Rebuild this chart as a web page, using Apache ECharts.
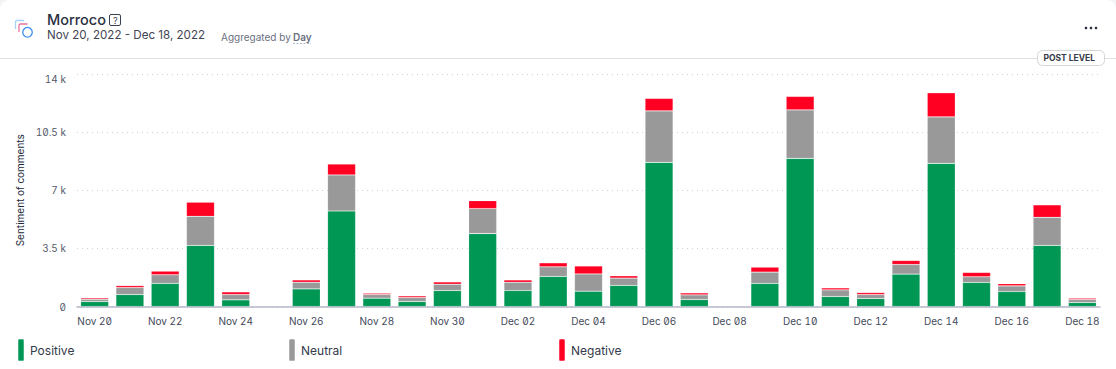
<!DOCTYPE html>
<html><head><meta charset="utf-8">
<script src="https://cdn.jsdelivr.net/npm/echarts@6/dist/echarts.min.js"></script>
<style>
html,body{margin:0;padding:0;background:#fff}
#c{width:1116px;height:369px;font-feature-settings:"zero","tnum";}
</style></head><body><div id="c"></div>
<script>
const categories=['Nov 20','Nov 21','Nov 22','Nov 23','Nov 24','Nov 25','Nov 26','Nov 27','Nov 28','Nov 29','Nov 30','Dec 01','Dec 02','Dec 03','Dec 04','Dec 05','Dec 06','Dec 07','Dec 08','Dec 09','Dec 10','Dec 11','Dec 12','Dec 13','Dec 14','Dec 15','Dec 16','Dec 17','Dec 18'];
const positive=[300,720,1390,3680,400,null,1060,5750,500,300,960,4390,960,1810,920,1270,8680,420,null,1390,8920,600,480,1950,8620,1450,900,3680,240];
const neutral=[140,420,520,1750,320,null,400,2170,220,240,380,1500,500,580,1040,440,3100,280,null,680,2920,400,240,580,2800,340,340,1690,180];
const negative=[80,120,220,850,160,null,140,660,80,100,140,480,140,240,480,140,750,120,null,300,810,120,120,240,1450,260,140,750,80];
const yTicks={0:'0',3500:'3.5 k',7000:'7 k',10500:'10.5 k',14000:'14 k'};
const FONT='Inter, "Noto Sans", sans-serif';
const INK='#343a4a';
const chart=echarts.init(document.getElementById('c'),null,{renderer:'svg'});
function bar(name,data,color){return {name,type:'bar',stack:'s',data,barWidth:28,
  itemStyle:{color,borderColor:'rgba(255,255,255,0.25)',borderWidth:0.6},emphasis:{disabled:true},animation:false};}
function legend(name,left){return {data:[{name}],left,top:338,padding:0,icon:'roundRect',itemWidth:6,itemHeight:22,itemGap:0,selectedMode:false,
  textStyle:{fontFamily:FONT,fontSize:12,color:INK,padding:[0,0,1,1]}};}
chart.setOption({
  animation:false,
  backgroundColor:'#f3f4f5',
  grid:{left:77,right:16,top:74,bottom:62.5},
  legend:[legend('Positive',17),legend('Neutral',288),legend('Negative',558)],
  xAxis:{type:'category',data:categories,
    axisLine:{lineStyle:{color:'#b4b7c6',width:1.5}},
    axisTick:{alignWithLabel:true,interval:1,length:6,lineStyle:{color:'#8d91a3'}},
    axisLabel:{interval:1,fontFamily:FONT,fontSize:10,color:'#444a5a',margin:9}},
  yAxis:{type:'value',min:0,max:14000,interval:3500,
    name:'Sentiment of comments',nameLocation:'middle',nameGap:52,nameRotate:90,
    nameTextStyle:{fontFamily:FONT,fontSize:10,color:'#22283a'},
    axisLine:{show:false},axisTick:{show:false},
    axisLabel:{fontFamily:FONT,fontSize:10,color:'#555b6b',margin:11,verticalAlignMaxLabel:'top',formatter:v=>yTicks[v]},
    splitLine:{lineStyle:{type:[1,4],color:'#cfd1d6',width:1}}},
  series:[bar('Positive',positive,'#009755'),bar('Neutral',neutral,'#999999'),bar('Negative',negative,'#ff0022')],
  graphic:[
    {type:'rect',z:-10,shape:{x:0,y:0,width:1116,height:400,r:9},style:{fill:'#fff'},silent:true},
    {type:'line',shape:{x1:0,y1:58.5,x2:1116,y2:58.5},style:{stroke:'#e0e0e0',lineWidth:1},silent:true},
    {type:'polyline',shape:{points:[[15.5,29],[15.5,21.5],[16.5,20.5],[24,20.5]]},style:{fill:'none',stroke:'#a6d3f5',lineWidth:1.3}},
    {type:'polyline',shape:{points:[[19,32],[19,25],[20,24],[27.5,24]]},style:{fill:'none',stroke:'#e8749a',lineWidth:1.3}},
    {type:'circle',shape:{cx:27.5,cy:32.3,r:4.8},style:{fill:'#fff',stroke:'#3f8ff0',lineWidth:1.3}},
    {type:'text',left:47,top:12,style:{text:'Morroco',font:'500 14.5px '+FONT,fill:'#2a3040'}},
    {type:'rect',shape:{x:109.5,y:14.5,width:11,height:11,r:1.5},style:{fill:'none',stroke:'#3a4050',lineWidth:1}},
    {type:'text',left:113,top:15.5,style:{text:'?',font:'9px '+FONT,fill:'#3a4050'}},
    {type:'text',left:47,top:28.5,style:{text:'Nov 20, 2022 - Dec 18, 2022',font:'11.6px '+FONT,fill:'#3f4555'}},
    {type:'text',left:221,top:32,style:{text:'Aggregated by',font:'10px '+FONT,fill:'#6b7080'}},
    {type:'text',left:293,top:32,style:{text:'Day',font:'600 10px '+FONT,fill:'#6b7080'}},
    {type:'line',shape:{x1:293,y1:43.5,x2:311,y2:43.5},style:{stroke:'#a9b6cc',lineWidth:1,lineDash:[2,1.5]}},
    {type:'circle',shape:{cx:1086,cy:28,r:1.3},style:{fill:'#2a3040'}},
    {type:'circle',shape:{cx:1091,cy:28,r:1.3},style:{fill:'#2a3040'}},
    {type:'circle',shape:{cx:1096,cy:28,r:1.3},style:{fill:'#2a3040'}},
    {type:'rect',shape:{x:1037.5,y:50.5,width:67,height:15,r:5},style:{fill:'#fff',stroke:'#d5d5d8',lineWidth:1}},
    {type:'text',left:1043.5,top:53.5,style:{text:'POST LEVEL',font:'700 8.5px '+FONT,fill:'#343a4a'}}
  ]
});
</script></body></html>
